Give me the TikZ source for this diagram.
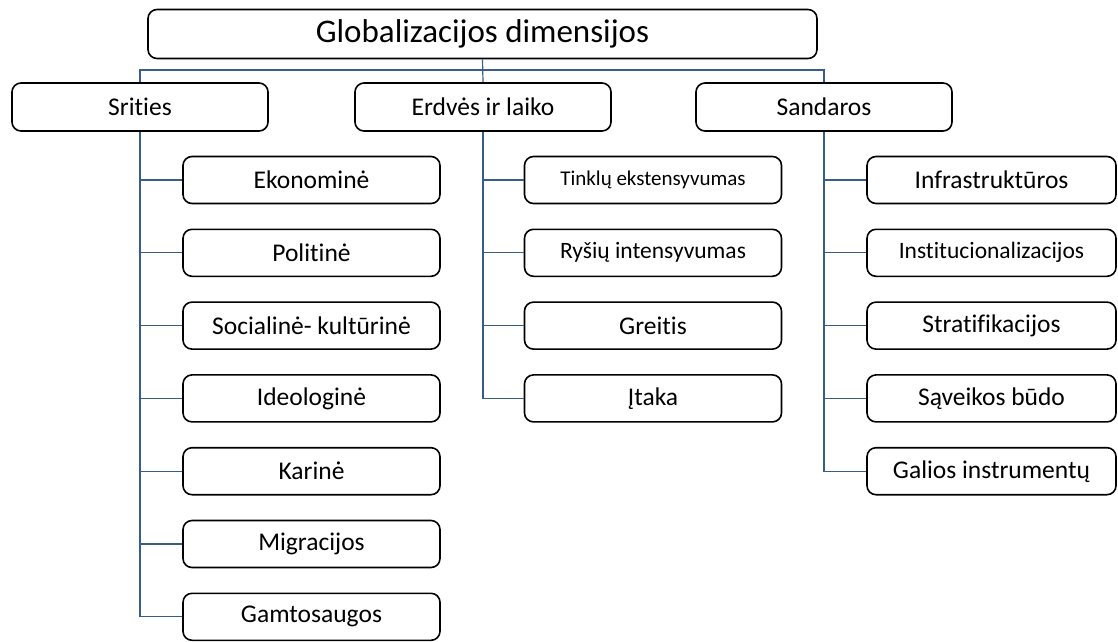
\documentclass[tikz,border=0pt]{standalone}
\usepackage{fontspec}
\setmainfont{Carlito}[Ligatures=NoCommon]
\usetikzlibrary{positioning,calc}
\definecolor{linkblue}{RGB}{56,93,138}
\tikzset{
  box/.style={draw=black, line width=1.6pt, rounded corners=9pt, fill=white,
    minimum width=257pt, minimum height=48pt, inner sep=0pt, align=center,
    font=\fontsize{25.5}{28}\selectfont},
  kid/.style={box, minimum height=47pt},
  link/.style={draw=linkblue, line width=1.2pt},
}
\begin{document}
\begin{tikzpicture}[x=1pt,y=-1pt]
\useasboundingbox (0,0) rectangle (1118,641);
% top box
\node[box, minimum width=669pt, minimum height=49pt, font=\fontsize{33}{36}\selectfont] (globa) at (482.5,34) {Globalizacijos dimensijos};
% three branches
\node[box, minimum width=256pt] (srities) at (140,107) {Srities};
\node[box, minimum width=256pt] (erdves) at (483,107) {Erdvės ir laiko};
\node[box, minimum width=256pt] (sandaros) at (824,107) {Sandaros};
\coordinate (bus) at (483,70);
\draw[link] (globa.south) -- (erdves.north);
\draw[link] (srities.north) |- (bus) -| (sandaros.north);
% Srities
\foreach \i/\txt in {0/Ekonominė,1/Politinė,2/Socialinė- kultūrinė,3/Ideologinė,4/Karinė,5/Migracijos,6/Gamtosaugos} {
  \node[kid] (s\i) at (311.5,180+72.8*\i) {\txt};
  \draw[link] (srities.south) |- (s\i.west);
}
% Erdvės ir laiko
\foreach \i/\txt/\fs in {0/Tinklų ekstensyvumas/21,1/Ryšių intensyvumas/23.5,2/Greitis/25.5,3/Įtaka/25.5} {
  \node[kid, font=\fontsize{\fs}{28}\selectfont] (e\i) at (653,180+72.8*\i) {\txt};
  \draw[link] (erdves.south) |- (e\i.west);
}
% Sandaros
\foreach \i/\txt/\fs in {0/Infrastruktūros/25.5,1/Institucionalizacijos/23.5,2/Stratifikacijos/25.5,3/Sąveikos būdo/25.5,4/Galios instrumentų/25.5} {
  \node[kid, minimum width=249pt, font=\fontsize{\fs}{28}\selectfont] (d\i) at (991.5,180+72.8*\i) {\txt};
  \draw[link] (sandaros.south) |- (d\i.west);
}
\end{tikzpicture}
\end{document}
